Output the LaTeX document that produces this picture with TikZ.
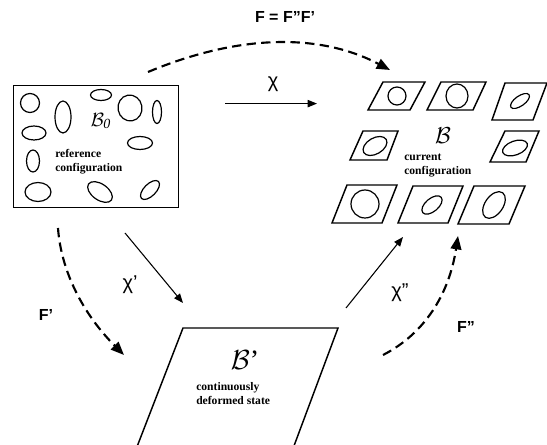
\documentclass[tikz,border=0pt]{standalone}
\usepackage{fontspec}
\setmainfont{Liberation Serif}
\newfontfamily\labelsans{Liberation Sans}
\usetikzlibrary{arrows.meta}

\tikzset{
  outline/.style={line width=1.1pt},
  grain/.style={line width=0.9pt},
  mapping/.style={-{Triangle[length=7pt,width=5.5pt]}, line width=0.8pt},
  gradient/.style={-{Triangle[length=10pt,width=8pt]}, line width=1.6pt,
                   dash pattern=on 7pt off 4pt},
  caption/.style={font=\fontsize{8.7}{10.5}\selectfont\bfseries, align=left, inner sep=0pt},
  bodyname/.style={font=\fontsize{19}{21}\selectfont, inner sep=0pt},
  maplabel/.style={font=\labelsans\fontsize{15}{17}\selectfont, inner sep=0pt},
  gradlabel/.style={font=\labelsans\bfseries\fontsize{12}{14}\selectfont, inner sep=0pt}
}

\begin{document}
\begin{tikzpicture}[x=0.75pt, y=-0.75pt]
\useasboundingbox (0,0) rectangle (547,445);

% ---------- reference configuration ----------
\node[draw, outline, minimum width=165*0.75pt, minimum height=122*0.75pt,
      inner sep=0pt, anchor=north west] (refbox) at (13,85) {};
\draw[grain] (30,103) circle [radius=9.5];
\draw[grain] (63,117) ellipse [x radius=8, y radius=16];
\draw[grain] (101,95) ellipse [x radius=10.5, y radius=5.5];
\draw[grain] (130,108) ellipse [x radius=12, y radius=13, rotate=10];
\draw[grain] (157,112) ellipse [x radius=4.5, y radius=11.5];
\draw[grain] (34,133) ellipse [x radius=12, y radius=7];
\draw[grain] (140,143) ellipse [x radius=12.5, y radius=6.5];
\draw[grain] (33,161) ellipse [x radius=6.5, y radius=11];
\draw[grain] (38,192) ellipse [x radius=13, y radius=9.5];
\draw[grain] (100,192) ellipse [x radius=14, y radius=8, rotate=-35];
\draw[grain] (150,190) ellipse [x radius=12, y radius=6, rotate=45];
\node[bodyname, font=\fontsize{15}{17}\selectfont] (b0) at (101,121) {$\mathcal{B}_{\mathit{0}}$};
\node[caption, anchor=west] (reftext) at (55,162) {reference\\configuration};

% ---------- current configuration ----------
\coordinate (curcfg) at (445,150);
% row 1
\draw[outline] (368,110) -- (410,110) -- (425,82) -- (383,82) -- cycle;
\draw[grain] (397,96) circle [radius=9];
\draw[outline] (427,110) -- (473,110) -- (486,82) -- (441,82) -- cycle;
\draw[grain] (457,96) ellipse [x radius=11, y radius=12];
\draw[outline] (492,120) -- (533,120) -- (547,83) -- (505,83) -- cycle;
\draw[grain] (520,101) ellipse [x radius=11, y radius=5, rotate=35];
% row 2
\draw[outline] (350,160) -- (387,160) -- (398,131) -- (363,131) -- cycle;
\draw[grain] (375,146) ellipse [x radius=13, y radius=8, rotate=30];
\draw[outline] (490,162) -- (526,162) -- (539,131) -- (505,131) -- cycle;
\draw[grain] (515,148) ellipse [x radius=13, y radius=7, rotate=20];
% row 3
\draw[outline] (332,223) -- (382,223) -- (397,185) -- (347,185) -- cycle;
\draw[grain] (365,204) circle [radius=14];
\draw[outline] (398,223) -- (448,223) -- (463,186) -- (413,186) -- cycle;
\draw[grain] (432,205) ellipse [x radius=12, y radius=6.5, rotate=40];
\draw[outline] (458,224) -- (509,224) -- (525,186) -- (474,186) -- cycle;
\draw[grain] (494,205) ellipse [x radius=15, y radius=9, rotate=55];
\node[bodyname] (bcur) at (443,136) {$\mathcal{B}$};
\node[caption, anchor=west] (curtext) at (404,166) {current\\configuration};

% ---------- intermediate state ----------
\begin{scope}
  \clip (0,0) rectangle (547,445);
  \draw[outline] (183,328) -- (338,328) -- (285,470) -- (128,470) -- cycle;
\end{scope}
\coordinate (defbox) at (240,380);
\node[bodyname, font=\fontsize{21}{23}\selectfont] (bdef) at (245,360) {$\mathcal{B}$’};
\node[caption, anchor=west] (deftext) at (196,394) {continuously\\deformed state};

% ---------- maps ----------
\coordinate (chiA) at (225,103.6);  \coordinate (chiB) at (317,103.6);
\coordinate (chi1A) at (125,233); \coordinate (chi1B) at (183,303);
\coordinate (chi2A) at (346,308); \coordinate (chi2B) at (403,237);
\draw[mapping] (chiA) -- (chiB);
\draw[mapping] (chi1A) -- (chi1B);
\draw[mapping] (chi2A) -- (chi2B);
\node[maplabel] (chi) at (273,84) {χ};
\node[maplabel] (chi1) at (130,285) {χ’};
\node[maplabel] (chi2) at (400,293) {χ”};

% ---------- deformation gradients ----------
\coordinate (FA) at (148,72);   \coordinate (FB) at (390,70);
\coordinate (F1A) at (58,228);  \coordinate (F1B) at (124,355);
\coordinate (F2A) at (383,355); \coordinate (F2B) at (458,236);
\draw[gradient] (FA) .. controls (239,34) and (320,33) .. (FB);
\draw[gradient] (F1A) .. controls (61,271) and (83,314) .. (F1B);
\draw[gradient] (F2A) .. controls (424,334) and (449,295) .. (F2B);
\node[gradlabel] (F) at (285,17) {F = F”F’};
\node[gradlabel] (F1) at (46,315) {F’};
\node[gradlabel] (F2) at (466,327) {F”};
\end{tikzpicture}
\end{document}
